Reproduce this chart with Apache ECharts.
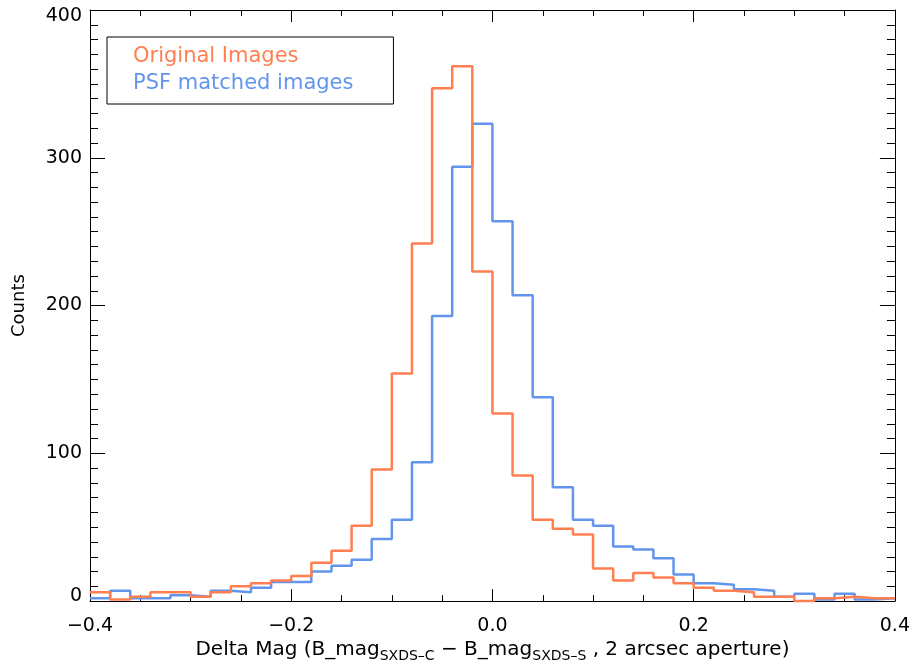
<!DOCTYPE html>
<html>
<head>
<meta charset="utf-8">
<script src="https://cdn.jsdelivr.net/npm/echarts@6/dist/echarts.min.js"></script>
<style>
html, body { margin: 0; padding: 0; background: #fff; }
#container { width: 913px; height: 668px; }
</style>
</head>
<body>
<div id="container"></div>
<script>
// histogram bins: 40 bins of 0.02 from -0.4 to 0.4
var binStart = -0.4;
var binWidth = 0.02;
var original = [6, 1, 3, 6, 6, 3, 6, 10, 12, 14, 17, 26, 34, 51, 89, 154, 242, 347, 362, 223,
                127, 85, 55, 49, 45, 22, 14, 19, 16, 12, 9, 7, 6, 3, 3, 0, 2, 3, 2, 2];
var psfMatched = [2, 7, 2, 2, 4, 3, 7, 6, 9, 13, 13, 20, 24, 28, 42, 55, 94, 193, 294, 323,
                  257, 207, 138, 77, 55, 51, 37, 35, 29, 18, 12, 11, 8, 7, 3, 5, 1, 5, 1, 2];
var seriesNames = ['Original Images', 'PSF matched images'];
var xTicks = [-0.4, -0.2, 0.0, 0.2, 0.4];
var yTicks = [0, 100, 200, 300, 400];

var orange = '#ff7f50';
var blue = '#6495ed';
var font = 'DejaVu Sans';

// turn counts into step points at the bin edges
function steps(counts) {
  var d = [];
  for (var i = 0; i < counts.length; i++) {
    d.push([+(binStart + i * binWidth).toFixed(2), counts[i]]);
  }
  d.push([+(binStart + counts.length * binWidth).toFixed(2), counts[counts.length - 1]]);
  return d;
}

function xAxisOpt(pos) {
  return {
    type: 'value',
    position: pos,
    min: xTicks[0],
    max: xTicks[xTicks.length - 1],
    interval: 0.2,
    axisLine: { show: true, onZero: false, lineStyle: { color: '#000', width: 1 } },
    axisTick: { show: true, inside: true, length: 12, lineStyle: { color: '#000' } },
    minorTick: { show: true, splitNumber: 4, length: 6, lineStyle: { color: '#000' } },
    splitLine: { show: false },
    axisLabel: {
      show: pos === 'bottom',
      margin: 15,
      fontSize: 19,
      fontFamily: font,
      color: '#000',
      formatter: function (v) { return v.toFixed(1).replace('-', '\u2212'); }
    }
  };
}

function yAxisOpt(pos) {
  return {
    type: 'value',
    position: pos,
    min: yTicks[0],
    max: yTicks[yTicks.length - 1],
    interval: 100,
    axisLine: { show: true, onZero: false, lineStyle: { color: '#000', width: 1 } },
    axisTick: { show: true, inside: true, length: 15, lineStyle: { color: '#000' } },
    minorTick: { show: true, splitNumber: 10, length: 8, lineStyle: { color: '#000' } },
    splitLine: { show: false },
    axisLabel: {
      show: pos === 'left',
      margin: 8,
      fontSize: 19,
      fontFamily: font,
      color: '#000',
      formatter: function (v) {
        if (v === 400) return '{top|' + v + '}';
        if (v === 0) return '{bot|' + v + '}';
        return '' + v;
      },
      rich: {
        top: { fontSize: 19, fontFamily: font, color: '#000', padding: [13, 0, 0, 0] },
        bot: { fontSize: 19, fontFamily: font, color: '#000', padding: [0, 0, 11, 0] }
      }
    }
  };
}

var xBottom = xAxisOpt('bottom');
xBottom.name = '{n|Delta Mag (B_mag}{s|SXDS\u2013C}{n| \u2212 B_mag}{s|SXDS\u2013S}{n| , 2 arcsec aperture)}';
xBottom.nameLocation = 'middle';
xBottom.nameGap = 25;
xBottom.nameTextStyle = {
  rich: {
    n: { fontSize: 20, fontFamily: font, color: '#000', lineHeight: 22 },
    s: { fontSize: 14, fontFamily: font, color: '#000', lineHeight: 14, verticalAlign: 'bottom', padding: [0, 0, -2, 0] }
  }
};

var yLeft = yAxisOpt('left');
yLeft.name = 'Counts';
yLeft.nameLocation = 'middle';
yLeft.nameGap = 62;
yLeft.nameTextStyle = { fontSize: 18, fontFamily: font, color: '#000' };

var dom = document.getElementById('container');
var myChart = echarts.init(dom, null, { renderer: 'canvas' });

var option = {
  backgroundColor: '#fff',
  animation: false,
  grid: { left: 90, right: 18, top: 10, bottom: 64, containLabel: false },
  legend: {
    left: 107,
    top: 37,
    orient: 'vertical',
    icon: 'none',
    itemWidth: 10,
    itemHeight: 24,
    itemGap: 3,
    padding: [8, 40, 8, 11],
    borderColor: '#000',
    borderWidth: 1,
    selectedMode: false,
    textStyle: { fontSize: 21, fontFamily: font, lineHeight: 24 },
    data: [
      { name: seriesNames[0], textStyle: { color: orange } },
      { name: seriesNames[1], textStyle: { color: blue } }
    ]
  },
  xAxis: [xBottom, xAxisOpt('top')],
  yAxis: [yLeft, yAxisOpt('right')],
  series: [
    {
      name: seriesNames[1],
      type: 'line',
      step: 'end',
      symbol: 'none',
      clip: false,
      color: blue,
      lineStyle: { color: blue, width: 2.5 },
      data: steps(psfMatched)
    },
    {
      name: seriesNames[0],
      type: 'line',
      step: 'end',
      symbol: 'none',
      clip: false,
      color: orange,
      lineStyle: { color: orange, width: 2.5 },
      data: steps(original)
    }
  ]
};

myChart.setOption(option);
window.addEventListener('resize', myChart.resize);
</script>
</body>
</html>
